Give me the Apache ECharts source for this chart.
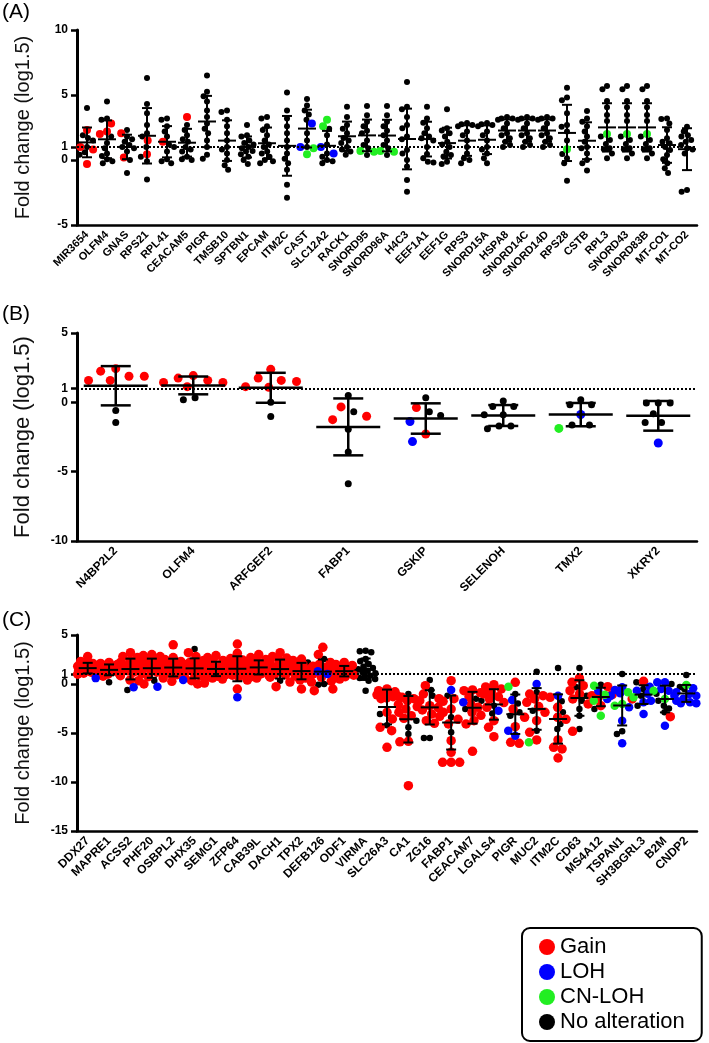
<!DOCTYPE html>
<html><head><meta charset="utf-8">
<script src="https://cdn.jsdelivr.net/npm/echarts@6/dist/echarts.min.js"></script>
<style>html,body{margin:0;padding:0;background:#fff}#c{width:709px;height:1043px}</style>
</head><body><div id="c"></div>
<script>
const FONT = '"Liberation Sans", Arial, Helvetica, sans-serif';

// ---------------- Panel A ----------------
const catsA = ['MIR3654','OLFM4','GNAS','RPS21','RPL41','CEACAM5','PIGR','TMSB10','SPTBN1','EPCAM','ITM2C','CAST','SLC12A2','RACK1','SNORD95','SNORD96A','H4C3','EEF1A1','EEF1G','RPS3','SNORD15A','HSPA8','SNORD14C','SNORD14D','RPS28','CSTB','RPL3','SNORD43','SNORD83B','MT-CO1','MT-CO2'];
const ticksA = [-5, 0, 1, 5, 10];
const gainA = [
  [2.3,1.0,0.8,-0.3],      // MIR3654
  [2.8,2.2,2.0],           // OLFM4
  [2.05,0.2],              // GNAS
  [1.5,0.45],              // RPS21
  [1.4],                   // RPL41
  [3.3],                   // CEACAM5
  [],[],[],[],[],[],[],[],[],[],[],[],[],[],[],[],[],[],[],[],[],[],[],[],[]
];
const lohA = [
  [],[],[],[],[],[],[],[],[],[],[],
  [2.8,1.0],               // CAST
  [1.0,0.5],               // SLC12A2
  [],[],[],[],[],[],[],[],[],[],[],[],[],[],[],[],[],[]
];
const cnlohA = [
  [],[],[],[],[],[],[],[],[],[],[],
  [0.9,0.45],              // CAST
  [3.1,2.6],               // SLC12A2
  [],                      // RACK1
  [0.7,0.64],              // SNORD95
  [0.7,0.64],              // SNORD96A
  [],[],[],[],[],[],[],[], // H4C3..SNORD14D
  [0.82],                  // RPS28
  [],                      // CSTB
  [2.0],[2.0],[2.0],       // RPL3, SNORD43, SNORD83B
  [],[]
];
const noneA = [
  [4.0,1.9,1.7,1.5,1.0,0.6,0.4],
  [4.5,3.2,3.1,1.8,1.3,0.9,0.5,0.3,0.05,-0.1,-0.25],
  [2.3,1.8,1.6,1.4,1.15,1.0,0.9,0.65,0.0,-1.0],
  [6.3,4.3,3.6,2.7,2.05,1.8,1.0,0.25,-0.1,-1.5],
  [3.2,3.1,2.6,2.2,1.8,1.2,1.0,0.65,0.05,-0.1,-0.25],
  [2.7,2.3,1.9,1.6,1.4,1.0,0.8,0.65,0.25,0.05,0.0],
  [6.5,5.25,4.9,4.5,3.8,3.3,2.8,2.4,2.05,1.5,1.0,0.4,0.1],
  [3.8,3.7,3.1,2.6,2.05,1.5,1.0,0.8,0.5,0.0,-0.4,-0.75],
  [2.7,1.9,1.8,1.5,1.3,1.2,1.0,0.9,0.7,0.65,0.45,0.25,0.0,-0.3],
  [3.3,3.2,2.6,2.3,1.9,1.5,1.2,1.0,0.65,0.5,0.25,0.0,-0.1,-0.25],
  [5.2,3.8,3.2,2.6,2.05,1.5,1.0,0.5,0.1,-0.25,-0.75,-1.9,-2.9],
  [4.7,4.2,3.8,3.5,3.1,2.05,1.5,1.0],
  [2.4,1.9,1.2,0.5,0.25,0.0,-0.1,-0.25],
  [4.1,3.3,2.7,2.4,2.05,1.7,1.5,1.3,1.0,0.8,0.65,0.4],
  [4.15,3.45,2.95,2.6,2.25,2.05,1.5,1.15,0.9,0.38],
  [4.15,3.45,2.95,2.6,2.25,1.9,1.5,1.15,0.9,0.38],
  [6.0,4.1,3.9,3.3,2.7,2.45,1.8,1.6,0.77,0.5,0.0,-0.5,-1.54,-2.45],
  [4.1,3.2,2.87,2.44,2.05,1.8,1.67,1.5,1.0,0.46,0.13,-0.13,-0.2],
  [3.9,2.44,2.26,2.05,1.8,1.4,1.2,1.0,0.64,0.38,0.26,-0.13,-0.3],
  [2.85,2.75,2.7,2.6,2.2,1.9,1.5,1.0,0.5,0.13,0.0,-0.25],
  [2.85,2.75,2.7,2.6,2.2,1.9,1.5,1.0,0.8,0.5,0.13,-0.25],
  [3.3,3.2,3.2,3.1,2.8,2.44,2.05,1.9,1.67,1.4,1.15,1.0],
  [3.3,3.2,3.2,3.1,2.8,2.44,2.05,1.9,1.67,1.4,1.15,1.0],
  [3.3,3.2,3.2,3.1,2.8,2.44,2.05,1.9,1.67,1.4,1.15,1.0],
  [5.56,4.8,4.6,3.6,2.7,2.56,2.2,1.5,0.46,0.13,-0.25,-1.6],
  [3.77,3.2,2.95,2.6,2.2,1.8,1.4,1.0,0.9,0.5,0.0,-0.25,-0.8],
  [5.7,5.44,4.54,4.05,3.46,3.0,1.8,1.54,1.23,0.9,0.82,0.5,0.13],
  [5.7,5.44,4.54,4.05,3.46,3.0,1.8,1.54,1.23,0.9,0.82,0.5,0.13],
  [5.7,5.44,4.54,4.05,3.46,3.0,1.8,1.54,1.23,0.9,0.82,0.5,0.13],
  [3.2,3.15,2.8,2.3,1.67,1.4,1.28,1.0,0.77,0.38,0.05,-0.25,-0.64,-1.0],
  [2.56,2.2,1.9,1.8,1.54,1.4,1.15,0.9,0.8,0.5,-2.3,-2.45]
];

// ---------------- Panel B ----------------
const catsB = ['N4BP2L2','OLFM4','ARFGEF2','FABP1','GSKIP','SELENOH','TMX2','XKRY2'];
const ticksB = [-10, -5, 0, 1, 5];
const gainB = [
  [2.43,2.25,1.88,1.88,1.58,1.58],
  [1.93,1.75,1.58,1.43,1.43,1.13],
  [2.38,1.75,1.58,1.5,1.13,1.08],
  [-0.33,-1.0,-1.25],
  [-0.38,-2.28],
  [],[],[]
];
const lohB = [[],[],[],[],[-1.38,-2.83],[],[-0.88],[-2.93]];
const cnlohB = [[],[],[],[],[],[],[-1.88],[]];
const noneB = [
  [-0.58,-1.45],
  [0.33,0.18],
  [0.0,-1.03],
  [0.5,-0.68,-1.95,-3.58,-5.88],
  [0.33,-0.68,-0.95],
  [0.1,-0.3,-0.3,-0.9,-0.9,-1.7,-1.7,-1.9],
  [0.18,-0.18,-0.18,-1.63,-1.63],
  [-0.05,-0.05,-0.05,-0.83,-1.45,-1.45]
];

// ---------------- Panel C ----------------
const catsC = ['DDX27','MAPRE1','ACSS2','PHF20','OSBPL2','DHX35','SEMG1','ZFP64','CAB39L','DACH1','TPX2','DEFB126','ODF1','VIRMA','SLC26A3','CA1','ZG16','FABP1','CEACAM7','LGALS4','PIGR','MUC2','ITM2C','CD63','MS4A12','TSPAN1','SH3BGRL3','B2M','CNDP2'];
const ticksC = [-15, -10, -5, 0, 1, 5];
const gainC = [
  [2.8,2.3,2.1,2.0,1.9,1.8,1.7,1.6,1.6,1.5,1.4,1.3,1.2,1.1,1.0],
  [2.2,2.1,2.0,1.9,1.8,1.7,1.6,1.5,1.4,1.3,1.2,1.0,0.8],
  [3.2,2.8,2.7,2.4,2.2,2.1,2.0,1.87,1.8,1.7,1.5,1.36,1.2,0.85,0.4,0.34],
  [3.0,2.9,2.8,2.6,2.4,2.2,2.0,1.87,1.7,1.63,1.5,1.36,1.2,1.02,0.75,0.0],
  [4.0,2.7,2.5,2.3,2.2,2.0,1.9,1.8,1.7,1.6,1.5,1.4,1.3,1.1,0.95,0.6,0.27],
  [3.2,2.8,2.4,2.2,2.1,2.0,1.8,1.63,1.5,1.36,1.2,1.02,0.85,0.68,0.34,0.1,0.0],
  [2.9,2.7,2.4,2.2,2.0,1.87,1.7,1.63,1.5,1.36,1.2,1.1,0.95,0.8,0.7,0.6,0.5],
  [4.08,3.13,2.6,2.45,2.3,2.2,2.0,1.9,1.77,1.6,1.45,1.29,1.1,0.9,0.68,0.4,-0.51],
  [3.0,2.7,2.5,2.3,2.2,2.0,1.87,1.7,1.6,1.43,1.3,1.2,1.02,0.9,0.75,0.61],
  [3.2,2.8,2.65,2.4,2.2,2.0,1.87,1.7,1.5,1.43,1.2,1.0,0.95,0.7,0.2,-0.27],
  [2.55,2.4,2.1,1.97,1.8,1.63,1.5,1.4,1.29,1.1,0.95,0.8,0.6,0.41,0.2,-0.51],
  [3.74,3.0,2.2,2.0,1.8,1.7,1.5,1.0,0.68,0.3,-0.51,-0.68],
  [2.2,2.0,1.9,1.77,1.6,1.43,1.2,1.1,1.02,0.9,0.75,0.61,0.5],
  [],
  [-0.5,-0.68,-0.8,-1.0,-1.02,-1.1,-1.19,-1.3,-1.43,-1.5,-2.89,-3.57,-4.42,-4.76,-6.46],
  [-1.36,-1.5,-1.7,-2.1,-2.3,-2.55,-2.89,-3.23,-3.5,-5.85,-5.9,-10.37],
  [-0.17,-1.02,-1.5,-1.7,-2.21,-2.4,-2.65,-3.06,-3.3,-3.74,-4.01],
  [0.34,-1.5,-1.77,-2.55,-2.89,-3.6,-4.08,-5.78,-6.97,-7.99,-7.99,-7.99],
  [-0.6,-0.68,-0.9,-1.29,-2.1,-2.38,-2.89,-3.2,-3.74,-4.08,-6.87],
  [-0.07,-0.3,-0.51,-0.8,-1.02,-1.3,-1.53,-1.9,-2.38,-3.74,-4.42,-5.37],
  [0.17,-2.55,-3.4,-4.35,-5.95,-6.05],
  [-1.02,-1.19,-1.53,-1.87,-2.3,-2.89,-3.74,-4.93,-5.71],
  [-1.36,-2.38,-3.4,-3.6,-5.71,-6.46,-6.63,-7.55],
  [0.61,0.17,-0.17,-0.68,-1.0,-1.53,-2.04,-4.83],
  [-0.27,-1.19,-1.36,-2.21],
  [-1.09,-1.53],
  [0.27],
  [-3.33],
  []
];
const lohC = [
  [0.6],[],[-0.34],[-0.27],[0.4],[],[],[-1.36],[],[],[],[1.29,1.02],[],[],
  [],[],[],[-0.61],[-1.87],[-2.72],[-1.63,-4.76,-5.27],[0.0],[-1.19],[],
  [-0.68,-1.19,-1.53],
  [-0.34,-0.6,-0.95,-2.38,-3.74,-6.05],
  [-0.27,-0.68,-1.0,-1.7,-1.87,-3.06],
  [0.17,0.17,-0.51,-0.68,-1.2,-4.25],
  [-0.44,-0.85,-1.02,-1.19,-1.5,-1.7,-1.87,-1.97,-1.97]
];
const cnlohC = [
  [],[],[],[],[],[],[],[],[],[],[],[],[],[],[],[],[],[],[],[],
  [-0.27],[-5.95],[],[],
  [-0.17,-1.09,-1.7,-3.23],
  [-0.85,-2.04,-2.21],
  [-0.68,-1.36],
  [-1.53],
  [-0.1]
];
const noneC = [
  [],[0.95,0.17],[-0.6],[0.34],[],[3.57],[],[],[],[0.34],[2.2],[2.55,0.0,-0.07],[1.36],
  [3.4,3.33,3.23,2.55,2.31,2.04,1.77,1.63,1.5,1.36,1.2,1.09,0.95,0.85,0.7,0.61,0.5,0.34,-0.68],
  [-3.06,-4.2],
  [-1.02,-3.74,-4.42,-5.1],
  [0.41,-0.61,-1.19,-5.51,-5.51],
  [-1.19,-3.4,-4.93],
  [-1.5,-1.7,-2.55],
  [-2.21,-3.0],
  [-1.02,-2.0,-2.89,-3.23],
  [1.26,-0.85,-2.72,-4.76],
  [1.63,-1.77,-2.89,-4.08,-4.59],
  [1.63,-0.34,-1.19,-1.7,-2.55,-3.23,-4.59],
  [-0.07,-2.55],
  [1.02,-4.83,-5.1],
  [0.17,-0.5,-1.19,-2.21],
  [0.0,-1.0,-1.7,-2.21,-2.5,-2.89],
  [0.92,-0.3,-0.51]
];

const legendNames = ['Gain','LOH','CN-LOH','No alteration'];
const colors = {'Gain':'#ff0000','LOH':'#0000ff','CN-LOH':'#22ee22','No alteration':'#000000'};

// ---------------- layout helpers ----------------
function swarm(points, pxU, spread, maxOff){
  const pts = points.slice().sort((a,b)=>b.v-a.v);
  const placed = [];
  for (const p of pts){
    const y = p.v*pxU;
    const forb = [];
    for (const q of placed){
      const d = (p.size+q.size)/2*spread;
      const dy = Math.abs(q.y-y);
      if (dy < d){ const w = Math.sqrt(d*d-dy*dy); forb.push([q.x-w, q.x+w]); }
    }
    const cands = [0];
    forb.forEach(f=>cands.push(f[0], f[1]));
    cands.sort((a,b)=>(Math.abs(a)-Math.abs(b)) || (a-b));
    let x = null;
    for (const c of cands){
      if (Math.abs(c) > maxOff + 1e-6) continue;
      if (forb.every(f=> c <= f[0]+1e-6 || c >= f[1]-1e-6)){ x = c; break; }
    }
    if (x === null){
      let best = 0, bestD = -1;
      for (let c = -maxOff; c <= maxOff; c += 0.5){
        let md = Infinity;
        for (const q of placed){ md = Math.min(md, Math.hypot(q.x-c, q.y-y)); }
        if (md > bestD){ bestD = md; best = c; }
      }
      x = best;
    }
    placed.push({x, y, v:p.v, size:p.size, status:p.status});
  }
  return placed;
}

function buildPanel(k, cats, groups, cfg){
  const n = cats.length;
  const seriesData = {};
  legendNames.forEach(nm=>seriesData[nm]=[]);
  const stats = [];
  for (let i=0;i<n;i++){
    const pts = [];
    groups.forEach(g=>{ (g.vals[i]||[]).forEach(v=>pts.push({v, status:g.name, size:cfg.sizes[g.name]})); });
    const vals = pts.map(p=>p.v);
    const mean = vals.reduce((a,b)=>a+b,0)/vals.length;
    const sd = Math.sqrt(vals.reduce((a,b)=>a+(b-mean)*(b-mean),0)/(vals.length-1));
    stats.push([i, mean, sd]);
    const placed = swarm(pts, cfg.pxU, cfg.spread, cfg.maxOff);
    placed.forEach(p=>seriesData[p.status].push([i + p.x/cfg.band, p.v]));
  }
  const series = [];
  ['No alteration','Gain','LOH','CN-LOH'].forEach((nm, j)=>{
    const s = {
      type:'scatter', name:nm, xAxisIndex:2*k+1, yAxisIndex:k,
      data: seriesData[nm], symbol:'circle', symbolSize: cfg.sizes[nm],
      itemStyle:{color:colors[nm], opacity:1}, z:2+j, silent:true, animation:false
    };
    if (nm==='No alteration'){
      s.markLine = {silent:true, symbol:'none', label:{show:false}, animation:false,
        lineStyle:{type:[2,2], width:2, color:'#000'}, data:[{yAxis:1}]};
    }
    series.push(s);
  });
  series.push({
    type:'custom', name:'sd'+k, xAxisIndex:2*k+1, yAxisIndex:k, z:10, silent:true, animation:false,
    data: stats, encode:{x:0, y:1},
    renderItem:(params, api)=>{
      const i=api.value(0), m=api.value(1), sd=api.value(2);
      const c=api.coord([i,m]), t=api.coord([i,m+sd]), b=api.coord([i,m-sd]);
      const style={stroke:'#000', lineWidth:cfg.lw, fill:null};
      const mw=cfg.mw, cw=cfg.cw;
      return {type:'group', children:[
        {type:'line', shape:{x1:c[0]-mw,y1:c[1],x2:c[0]+mw,y2:c[1]}, style},
        {type:'line', shape:{x1:c[0],y1:t[1],x2:c[0],y2:b[1]}, style},
        {type:'line', shape:{x1:c[0]-cw,y1:t[1],x2:c[0]+cw,y2:t[1]}, style},
        {type:'line', shape:{x1:c[0]-cw,y1:b[1],x2:c[0]+cw,y2:b[1]}, style}
      ]};
    }
  });
  const xCat = {
    type:'category', gridIndex:k, data:cats, boundaryGap:true, position:'bottom',
    axisLine:{onZero:false, lineStyle:{color:'#000', width:2.5}},
    axisTick:{alignWithLabel:true, length:6, lineStyle:{color:'#000', width:2.5}},
    axisLabel:{interval:0, rotate:45, margin:8, color:'#000', fontWeight:'bold', fontSize:cfg.xFont, fontFamily:FONT},
    splitLine:{show:false}
  };
  const xVal = {type:'value', gridIndex:k, min:-0.5, max:n-0.5, show:false, splitLine:{show:false}};
  const yAx = {
    type:'value', gridIndex:k, min:cfg.ymin, max:cfg.ymax, interval:5,
    axisLine:{show:true, onZero:false, lineStyle:{color:'#000', width:3}},
    axisTick:{show:true, length:6, customValues:cfg.ticks, lineStyle:{color:'#000', width:2.5}},
    axisLabel:{customValues:cfg.ticks, margin:9, color:'#000', fontWeight:'bold', fontSize:12, fontFamily:FONT},
    splitLine:{show:false},
    name:'Fold change (log1.5)', nameLocation:'middle', nameGap:cfg.nameGap,
    nameTextStyle:{fontSize:cfg.nameFont, color:'#111', fontFamily:FONT}
  };
  return {series, xAxes:[xCat, xVal], yAxis:yAx};
}

const pA = buildPanel(0, catsA, [
  {name:'No alteration', vals:noneA},{name:'Gain', vals:gainA},{name:'LOH', vals:lohA},{name:'CN-LOH', vals:cnlohA}],
  {pxU:13, band:20, spread:0.95, maxOff:9, sizes:{'No alteration':6,'Gain':8,'LOH':8,'CN-LOH':8},
   lw:2, mw:9, cw:5, xFont:11, ymin:-5, ymax:10, ticks:ticksA, nameGap:44, nameFont:20});
const pB = buildPanel(1, catsB, [
  {name:'No alteration', vals:noneB},{name:'Gain', vals:gainB},{name:'LOH', vals:lohB},{name:'CN-LOH', vals:cnlohB}],
  {pxU:13.9, band:77.5, spread:1.7, maxOff:30, sizes:{'No alteration':7,'Gain':9,'LOH':9,'CN-LOH':9},
   lw:2.5, mw:32, cw:15, xFont:12, ymin:-10, ymax:5, ticks:ticksB, nameGap:43, nameFont:22});
const pC = buildPanel(2, catsC, [
  {name:'No alteration', vals:noneC},{name:'Gain', vals:gainC},{name:'LOH', vals:lohC},{name:'CN-LOH', vals:cnlohC}],
  {pxU:9.8, band:21.4, spread:0.9, maxOff:10, sizes:{'No alteration':6.5,'Gain':9.5,'LOH':8.5,'CN-LOH':8.5},
   lw:2, mw:9, cw:5, xFont:12, ymin:-15, ymax:5, ticks:ticksC, nameGap:44, nameFont:20});

const option = {
  animation:false,
  backgroundColor:'#fff',
  textStyle:{fontFamily:FONT},
  grid:[
    {left:77, right:12, top:30, height:195},
    {left:77, right:12, top:333, height:208},
    {left:77, right:12, top:635, height:196}
  ],
  xAxis:[...pA.xAxes, ...pB.xAxes, ...pC.xAxes],
  yAxis:[pA.yAxis, pB.yAxis, pC.yAxis],
  series:[...pA.series, ...pB.series, ...pC.series],
  legend:{
    data:legendNames, orient:'vertical', left:522, top:928, height:140, selectedMode:false,
    padding:[8,17,8,17], borderColor:'#000', borderWidth:2, borderRadius:8,
    itemWidth:16, itemHeight:16, itemGap:3, icon:'circle',
    textStyle:{fontSize:22, lineHeight:22, color:'#000', fontFamily:FONT}
  },
  graphic:[
    {type:'text', left:2, top:2, style:{text:'(A)', font:'21px "Liberation Sans", Arial, sans-serif', fill:'#000'}},
    {type:'text', left:2, top:304, style:{text:'(B)', font:'21px "Liberation Sans", Arial, sans-serif', fill:'#000'}},
    {type:'text', left:2, top:610, style:{text:'(C)', font:'21px "Liberation Sans", Arial, sans-serif', fill:'#000'}}
  ]
};
const chart = echarts.init(document.getElementById('c'), null, {renderer:'canvas'});
chart.setOption(option);
</script>
</body></html>
